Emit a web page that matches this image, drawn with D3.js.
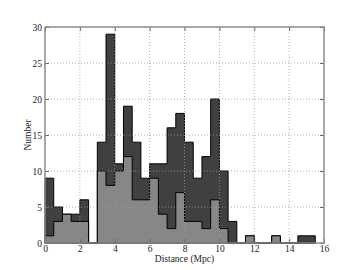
<!DOCTYPE html>
<html>
<head>
<meta charset="utf-8">
<script src="https://cdn.jsdelivr.net/npm/d3@7"></script>
<style>
html,body{margin:0;padding:0;background:#fff;}
svg{display:block;}
text{font-family:"Liberation Serif","Times New Roman",serif;}
</style>
</head>
<body>
<svg id="chart" width="360" height="270"></svg>
<script>
const binStart = 0;
const binWidth = 0.5;
const darkCounts = [9,5,4,4,6,0,14,29,11,19,14,9,11,11,16,18,14,9,12,20,10,3,0,1,0,0,1,0,0,1,1];
const lightCounts = [1,3,4,3,3,0,10,8,10,12,6,6,9,4,2,7,3,3,2,6,2,0,0,1,0,0,1,0,0,0,0];
const xTicks = [0,2,4,6,8,10,12,14,16];
const yTicks = [0,5,10,15,20,25,30];
const xLabel = "Distance (Mpc)";
const yLabel = "Number";

const L = 45, R = 324, T = 27, B = 243;
const svg = d3.select("#chart");
const x = d3.scaleLinear().domain([0,16]).range([L,R]);
const y = d3.scaleLinear().domain([0,30]).range([B,T]);

function stepPoints(counts){
  const pts = [[binStart,0]];
  counts.forEach((v,i)=>{
    const a = binStart + i*binWidth, b = a + binWidth;
    pts.push([a,v]); pts.push([b,v]);
  });
  pts.push([binStart + counts.length*binWidth, 0]);
  return pts;
}
const line = d3.line().x(d=>x(d[0])).y(d=>y(d[1]));

svg.append("path").attr("d", line(stepPoints(darkCounts)) + "Z")
  .attr("fill","#404040").attr("stroke","#000").attr("stroke-width",1);
svg.append("path").attr("d", line(stepPoints(lightCounts)) + "Z")
  .attr("fill","#878787").attr("stroke","#000").attr("stroke-width",1);

// grid
const grid = svg.append("g").attr("stroke","#9a9a9a").attr("stroke-width",0.8).attr("stroke-dasharray","1,2");
xTicks.forEach(t=>{ if(t>0 && t<16) grid.append("line").attr("x1",x(t)).attr("x2",x(t)).attr("y1",T).attr("y2",B); });
yTicks.forEach(t=>{ if(t>0 && t<30) grid.append("line").attr("y1",y(t)).attr("y2",y(t)).attr("x1",L).attr("x2",R); });

// axes
const ax = svg.append("g").attr("transform",`translate(0,${B})`)
  .call(d3.axisBottom(x).tickValues(xTicks).tickSizeInner(-4).tickSizeOuter(0).tickPadding(2));
const ay = svg.append("g").attr("transform",`translate(${L},0)`)
  .call(d3.axisLeft(y).tickValues(yTicks).tickSizeInner(-4).tickSizeOuter(0).tickPadding(3));
const axT = svg.append("g").attr("transform",`translate(0,${T})`)
  .call(d3.axisTop(x).tickValues(xTicks).tickSizeInner(-4).tickSizeOuter(0).tickFormat(""));
const ayR = svg.append("g").attr("transform",`translate(${R},0)`)
  .call(d3.axisRight(y).tickValues(yTicks).tickSizeInner(-4).tickSizeOuter(0).tickFormat(""));
[ax,ay,axT,ayR].forEach(g=>{
  g.select(".domain").remove();
  g.selectAll(".tick line").attr("stroke","#666");
  g.selectAll(".tick text").attr("fill","#222").style("font-family","'Liberation Serif',serif").style("font-size","9.5px");
});

// frame
svg.append("rect").attr("x",L).attr("y",T).attr("width",R-L).attr("height",B-T)
  .attr("fill","none").attr("stroke","#8c8c8c").attr("stroke-width",1.5);

svg.append("text").attr("x",(L+R)/2).attr("y",262).attr("text-anchor","middle")
  .style("font-size","9.5px").attr("fill","#222").text(xLabel);
svg.append("text").attr("transform",`translate(31,${(T+B)/2}) rotate(-90)`).attr("text-anchor","middle")
  .style("font-size","9.5px").attr("fill","#222").text(yLabel);
</script>
</body>
</html>
